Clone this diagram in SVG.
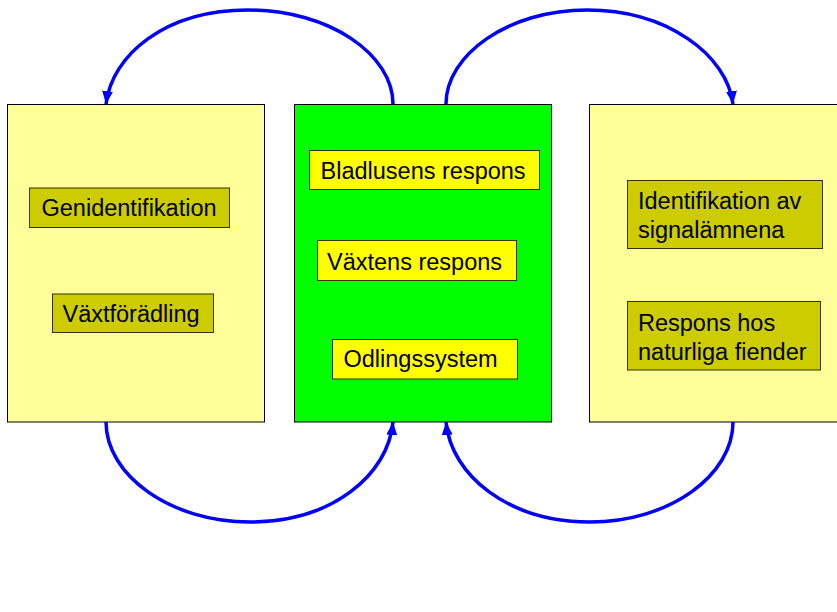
<svg xmlns="http://www.w3.org/2000/svg" width="837" height="612" viewBox="0 0 837 612">
<style>
.outer{stroke:#000;stroke-width:1}
.inner{stroke:#333300;stroke-width:1}
.lbl{font-family:"Liberation Sans",Arial,sans-serif;font-size:23.5px;fill:#000}
.conn{fill:none;stroke:#0000FF;stroke-width:3.5}
</style>
<defs>
<marker id="ah" markerUnits="userSpaceOnUse" markerWidth="14" markerHeight="14" viewBox="0 0 14 14" refX="13" refY="7" orient="auto">
<path d="M0,1.5 L13,7 L0,12.5 z" fill="#0000FF"/>
</marker>
</defs>
<rect width="837" height="612" fill="#fff"/>
<g id="left">
<rect class="outer" x="7.5" y="104.5" width="257" height="317.5" fill="#FFFF99"/>
<rect class="inner" x="29.5" y="188" width="200" height="39.5" fill="#CCCC00"/>
<text class="lbl" x="41.5" y="216">Genidentifikation</text>
<rect class="inner" x="52.5" y="294" width="161" height="38.5" fill="#CCCC00"/>
<text class="lbl" x="62.5" y="322">Växtförädling</text>
</g>
<g id="middle">
<rect class="outer" x="294.5" y="104.5" width="257" height="317.5" fill="#00FF00"/>
<rect class="inner" x="309.5" y="150.5" width="230" height="39" fill="#FFFF00"/>
<text class="lbl" x="320.5" y="178.5">Bladlusens respons</text>
<rect class="inner" x="317.5" y="240.5" width="199" height="40" fill="#FFFF00"/>
<text class="lbl" x="327" y="269.5">Växtens respons</text>
<rect class="inner" x="332.5" y="339.5" width="185" height="39.5" fill="#FFFF00"/>
<text class="lbl" x="343.5" y="367">Odlingssystem</text>
</g>
<g id="right">
<rect class="outer" x="589.5" y="104.5" width="250" height="317.5" fill="#FFFF99"/>
<rect class="inner" x="627.5" y="180.5" width="195" height="68" fill="#CCCC00"/>
<text class="lbl" x="638" y="208.5">Identifikation av</text>
<text class="lbl" x="638" y="237.5">signalämnena</text>
<rect class="inner" x="627.5" y="301.5" width="193" height="68.5" fill="#CCCC00"/>
<text class="lbl" x="638" y="331">Respons hos</text>
<text class="lbl" x="638" y="360">naturliga fiender</text>
</g>
<g id="connectors">
<path class="conn" d="M393,104 C393,55 330,10 248,10 C165,10 112,55 106,104" marker-end="url(#ah)"/>
<path class="conn" d="M446,104 C446,55 508,10 587,10 C667,10 727,55 733,104" marker-end="url(#ah)"/>
<path class="conn" d="M106,422 C106,475 170,522 250,522 C332,522 388,475 393,422" marker-end="url(#ah)"/>
<path class="conn" d="M733,422 C733,475 670,522 590,522 C508,522 451,475 446,422" marker-end="url(#ah)"/>
</g>
</svg>
